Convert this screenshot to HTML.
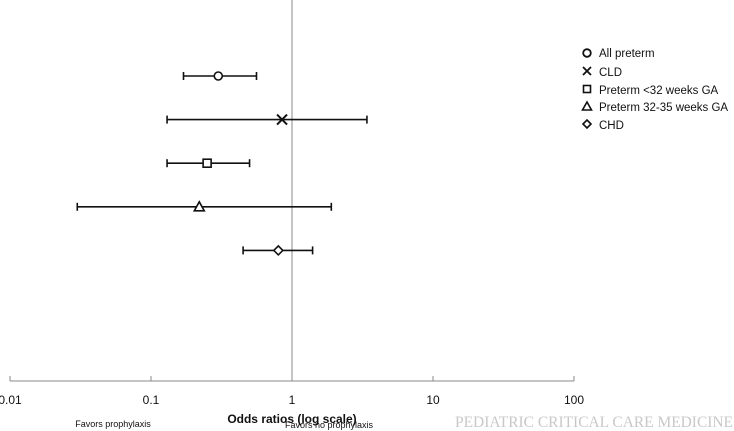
<!DOCTYPE html>
<html><head><meta charset="utf-8"><style>
html,body{margin:0;background:#fff;width:734px;height:431px;overflow:hidden;}
svg{display:block;font-family:"Liberation Sans",sans-serif;}
</style></head><body>
<svg id="c" width="734" height="431" viewBox="0 0 734 431">
<g id="axis"></g><g id="marks"></g>
<g font-size="11.5" fill="#111">
 <circle cx="587" cy="53" r="3.8" fill="none" stroke="#111" stroke-width="1.8"/>
 <text x="599" y="57">All preterm</text>
 <path d="M583,67 L591,75 M591,67 L583,75" stroke="#111" stroke-width="1.8"/>
 <text x="599" y="76">CLD</text>
 <rect x="583.5" y="85.5" width="7" height="7" fill="none" stroke="#111" stroke-width="1.6"/>
 <text x="599" y="94">Preterm &lt;32 weeks GA</text>
 <path d="M587,102 L591.5,110 L582.5,110 Z" fill="none" stroke="#111" stroke-width="1.6"/>
 <text x="599" y="111">Preterm 32-35 weeks GA</text>
 <path d="M587,120 L591,124 L587,128 L583,124 Z" fill="none" stroke="#111" stroke-width="1.6"/>
 <text x="599" y="129">CHD</text>
</g>
<text x="292" y="423" font-size="12" font-weight="bold" text-anchor="middle" fill="#111">Odds ratios (log scale)</text>
<text x="113" y="427" font-size="9" text-anchor="middle" fill="#111">Favors prophylaxis</text>
<text x="285" y="428" font-size="9" fill="#111">Favors no prophylaxis</text>
<text x="733" y="427" font-size="16" text-anchor="end" textLength="278" lengthAdjust="spacingAndGlyphs" fill="#c8c8c8" font-family="Liberation Serif,serif">PEDIATRIC CRITICAL CARE MEDICINE</text>
</svg>
<script>
const categories=["All preterm","CLD","Preterm <32 weeks GA","Preterm 32-35 weeks GA","CHD"];
const estimates=[0.30,0.85,0.25,0.22,0.80];
const lower=[0.17,0.13,0.13,0.03,0.45];
const upper=[0.56,3.4,0.5,1.9,1.4];
const shapes=["circle","x","square","triangle","diamond"];
const ticks=[0.01,0.1,1,10,100];
const tickLabels=["0.01","0.1","1","10","100"];
const NS="http://www.w3.org/2000/svg";
function xs(v){return 10+(Math.log10(v)+2)*141;}
function ys(i){return 76+i*43.6;}
function mk(t,a,p){const e=document.createElementNS(NS,t);for(const k in a)e.setAttribute(k,a[k]);p.appendChild(e);return e;}
const ax=document.getElementById('axis'),mg=document.getElementById('marks');
const al=mk('line',{x1:xs(0.01),x2:xs(100),y1:381,y2:381,stroke:'#888','stroke-width':1},ax);


const rl=mk('line',{x1:xs(1),x2:xs(1),y1:0,y2:381,stroke:'#888','stroke-width':1},ax);


ticks.forEach((t,i)=>{
 const tk=mk('line',{x1:xs(t),x2:xs(t),y1:376,y2:381,stroke:'#888'},ax);
 
 
 const tx=mk('text',{x:xs(t),y:404,'font-size':12,'text-anchor':'middle',fill:'#111'},ax);
 tx.textContent=tickLabels[i];
 
 
});
categories.forEach((c,i)=>{
 const y=ys(i),g=mk('g',{stroke:'#111','stroke-width':1.6,fill:'#fff'},mg);
 
 
 mk('line',{x1:xs(lower[i]),x2:xs(upper[i]),y1:y,y2:y},g);
 mk('line',{x1:xs(lower[i]),x2:xs(lower[i]),y1:y-4,y2:y+4},g);
 mk('line',{x1:xs(upper[i]),x2:xs(upper[i]),y1:y-4,y2:y+4},g);
 const x=xs(estimates[i]);
 let m;
 if(shapes[i]=="circle")m=mk('circle',{cx:x,cy:y,r:4},g);
 else if(shapes[i]=="x")m=mk('path',{d:`M${x-5},${y-5}L${x+5},${y+5}M${x+5},${y-5}L${x-5},${y+5}`,'stroke-width':2},g);
 else if(shapes[i]=="square")m=mk('rect',{x:x-4,y:y-4,width:8,height:8},g);
 else if(shapes[i]=="triangle")m=mk('path',{d:`M${x},${y-5}L${x+5},${y+4}L${x-5},${y+4}Z`},g);
 else m=mk('path',{d:`M${x},${y-4.5}L${x+4.5},${y}L${x},${y+4.5}L${x-4.5},${y}Z`},g);
 
 
});
</script>
</body></html>
